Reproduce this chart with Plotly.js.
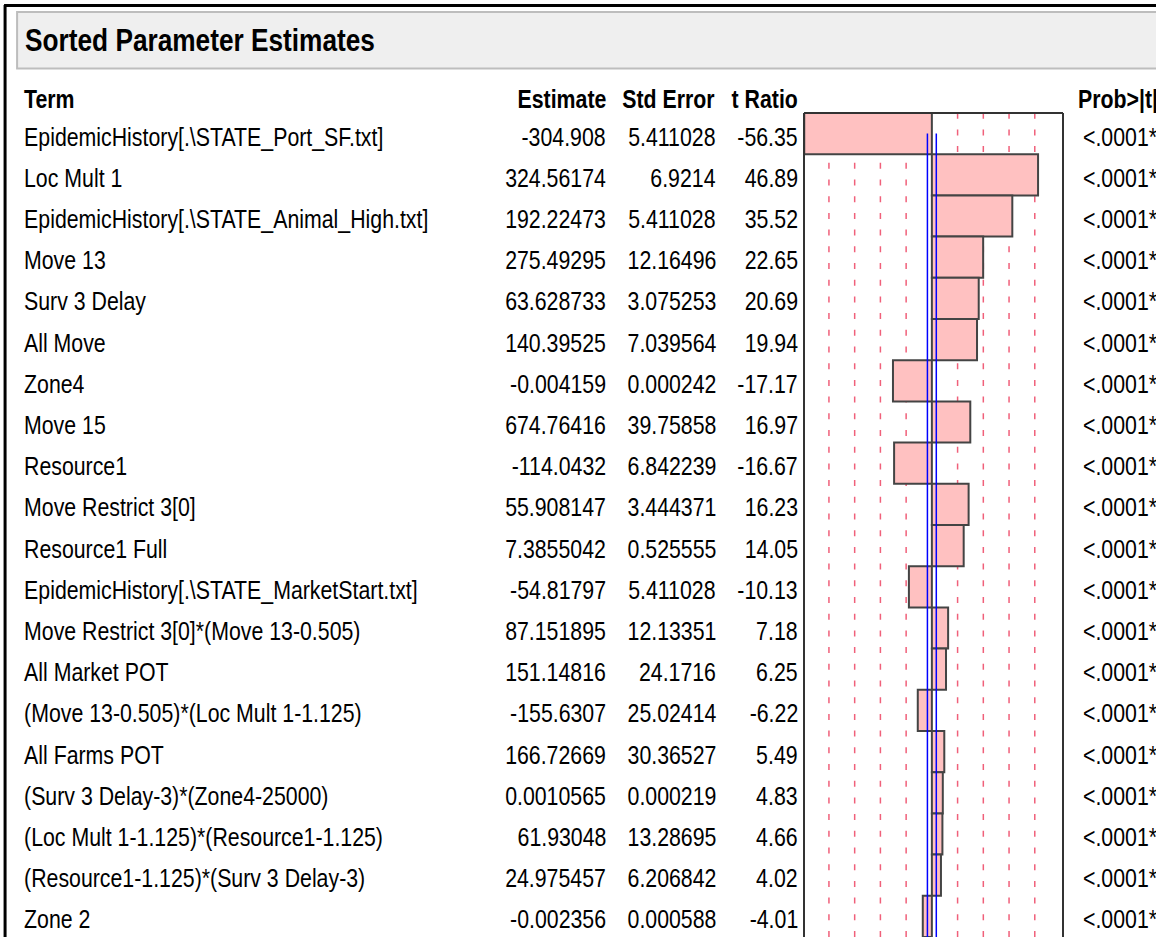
<!DOCTYPE html>
<html><head><meta charset="utf-8">
<script src="https://cdn.plot.ly/plotly-3.0.1.min.js"></script>
<style>html,body{margin:0;padding:0;background:#fff;overflow:hidden}#chart{width:1156px;height:937px}</style>
</head><body><div id="chart"></div>
<script>
const chartTitle = 'Sorted Parameter Estimates';
const columnHeaders = ['Term', 'Estimate', 'Std Error', 't Ratio', 'Prob>|t|'];
const terms = [
  'EpidemicHistory[.\\STATE_Port_SF.txt]',
  'Loc Mult 1',
  'EpidemicHistory[.\\STATE_Animal_High.txt]',
  'Move 13',
  'Surv 3 Delay',
  'All Move',
  'Zone4',
  'Move 15',
  'Resource1',
  'Move Restrict 3[0]',
  'Resource1 Full',
  'EpidemicHistory[.\\STATE_MarketStart.txt]',
  'Move Restrict 3[0]*(Move 13-0.505)',
  'All Market POT',
  '(Move 13-0.505)*(Loc Mult 1-1.125)',
  'All Farms POT',
  '(Surv 3 Delay-3)*(Zone4-25000)',
  '(Loc Mult 1-1.125)*(Resource1-1.125)',
  '(Resource1-1.125)*(Surv 3 Delay-3)',
  'Zone 2'
];
const estimates = [-304.908, 324.56174, 192.22473, 275.49295, 63.628733, 140.39525, -0.004159, 674.76416, -114.0432, 55.908147, 7.3855042, -54.81797, 87.151895, 151.14816, -155.6307, 166.72669, 0.0010565, 61.93048, 24.975457, -0.002356];
const stdErrors = [5.411028, 6.9214, 5.411028, 12.16496, 3.075253, 7.039564, 0.000242, 39.75858, 6.842239, 3.444371, 0.525555, 5.411028, 12.13351, 24.1716, 25.02414, 30.36527, 0.000219, 13.28695, 6.206842, 0.000588];
const tRatios = [-56.35, 46.89, 35.52, 22.65, 20.69, 19.94, -17.17, 16.97, -16.67, 16.23, 14.05, -10.13, 7.18, 6.25, -6.22, 5.49, 4.83, 4.66, 4.02, -4.01];
const probs = ['<.0001*', '<.0001*', '<.0001*', '<.0001*', '<.0001*', '<.0001*', '<.0001*', '<.0001*', '<.0001*', '<.0001*', '<.0001*', '<.0001*', '<.0001*', '<.0001*', '<.0001*', '<.0001*', '<.0001*', '<.0001*', '<.0001*', '<.0001*'];
const tCritical = 1.96;
const gridSteps = [-4, -3, -2, -1, 1, 2, 3, 4];
const gridUnit = 11.36;

const W = 1156, H = 937;
const M = {l: 804, r: 93.3, t: 113, b: 0};
const PW = W - M.l - M.r, PH = H - M.t - M.b;
const px2x = px => (px - M.l) / PW;
const py2y = py => (H - M.b - py) / PH;

const FONT = '"Liberation Sans", Arial, sans-serif';
const NARROW = 0.82;
const esc = s => s.replace(/&/g, '&amp;').replace(/</g, '&lt;').replace(/>/g, '&gt;');

const ann = [];
function txt(text, xpx, y, yref, anchor, size, bold, yshift) {
  ann.push({
    text: bold ? '<b>' + esc(text) + '</b>' : esc(text),
    x: px2x(xpx), xref: 'paper', y: y, yref: yref,
    xanchor: anchor, yanchor: 'middle', showarrow: false, yshift: yshift || 0,
    borderpad: 0, font: {family: FONT, size: size, color: '#000'}
  });
}
txt(chartTitle, 25, py2y(40), 'paper', 'left', 32, true);
const hy = py2y(99);
txt(columnHeaders[0], 24, hy, 'paper', 'left', 26, true);
txt(columnHeaders[1], 607, hy, 'paper', 'right', 26, true);
txt(columnHeaders[2], 716, hy, 'paper', 'right', 26, true);
txt(columnHeaders[3], 799, hy, 'paper', 'right', 26, true);
txt(columnHeaders[4], 1076.5, hy, 'paper', 'left', 26, true);
terms.forEach((t, i) => {
  txt(t, 23.5, t, 'y', 'left', 26, false, -3);
  txt(String(estimates[i]), 607, t, 'y', 'right', 26, false, -3);
  txt(String(stdErrors[i]), 717, t, 'y', 'right', 26, false, -3);
  txt(tRatios[i].toFixed(2), 799.5, t, 'y', 'right', 26, false, -3);
  txt(probs[i], 1081.5, t, 'y', 'left', 26, false, -3);
});

const shapes = [];
// outer frame
shapes.push({type: 'line', xref: 'paper', yref: 'paper', x0: px2x(5), x1: px2x(1160), y0: py2y(5.5), y1: py2y(5.5), line: {color: '#000', width: 3}});
shapes.push({type: 'line', xref: 'paper', yref: 'paper', x0: px2x(6), x1: px2x(6), y0: py2y(5), y1: py2y(940), line: {color: '#000', width: 3}});
// header band
shapes.push({type: 'rect', xref: 'paper', yref: 'paper', x0: px2x(18), x1: px2x(1170), y0: py2y(12), y1: py2y(68.5), fillcolor: '#EFEFEF', line: {color: '#BDBDBD', width: 2}});
// dashed reference lines
gridSteps.forEach(k => shapes.push({type: 'line', layer: 'below', xref: 'x', yref: 'paper', x0: k * gridUnit, x1: k * gridUnit, y0: 0, y1: 1, line: {color: '#F0607A', width: 1.5, dash: '6px,10.7px'}}));
// significance lines
[-tCritical, tCritical].forEach(v => shapes.push({type: 'line', xref: 'x', yref: 'paper', x0: v, x1: v, y0: -0.02, y1: 1 - 0.5 / terms.length, line: {color: '#0000FF', width: 1.5}}));
// box
shapes.push({type: 'line', xref: 'paper', yref: 'paper', x0: 0, x1: 1, y0: 1, y1: 1, line: {color: '#333', width: 2}});
shapes.push({type: 'line', xref: 'paper', yref: 'paper', x0: 0, x1: 0, y0: -0.02, y1: 1, line: {color: '#333', width: 2}});
shapes.push({type: 'line', xref: 'paper', yref: 'paper', x0: 1, x1: 1, y0: -0.02, y1: 1, line: {color: '#333', width: 2}});

const trace = {
  type: 'bar', orientation: 'h', x: tRatios, y: terms, width: 1,
  marker: {color: '#FFC1C1', line: {color: '#444', width: 2}},
  hoverinfo: 'none', cliponaxis: false
};

Plotly.newPlot('chart', [trace], {
  width: W, height: H, margin: M, showlegend: false,
  paper_bgcolor: '#fff', plot_bgcolor: '#fff', bargap: 0,
  xaxis: {range: [-56.45, 57.9], visible: false, fixedrange: true},
  yaxis: {type: 'category', autorange: 'reversed', visible: false, fixedrange: true},
  shapes: shapes, annotations: ann
}, {staticPlot: true, displayModeBar: false}).then(gd => {
  // condense the text horizontally (JMP uses a narrow face), keeping each anchor edge fixed
  gd.querySelectorAll('g.annotation').forEach(g => {
    const a = ann[+g.getAttribute('data-index')];
    const t = g.querySelector('text.annotation-text');
    if (!a || !t) return;
    const bb = t.getBBox();
    const ax = a.xanchor === 'right' ? bb.x + bb.width : bb.x;
    t.setAttribute('transform', 'translate(' + ax + ',0) scale(' + NARROW + ',1) translate(' + (-ax) + ',0)');
  });
});
</script></body></html>
